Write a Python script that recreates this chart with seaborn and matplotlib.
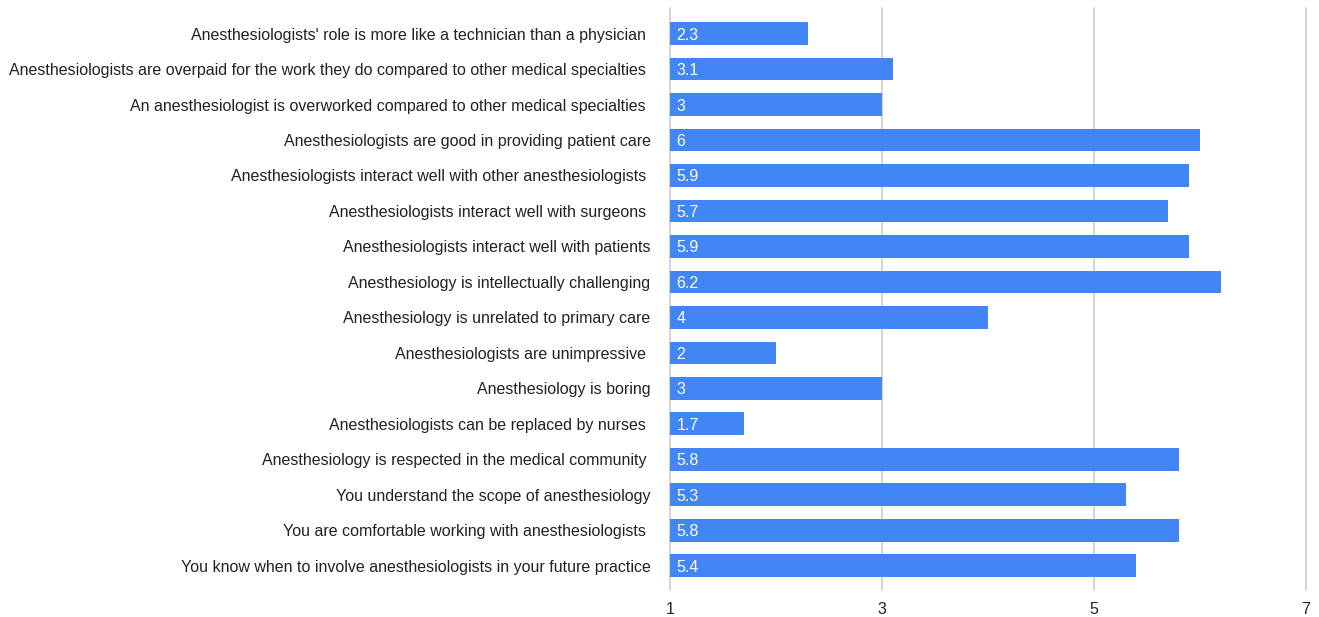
import matplotlib
matplotlib.use("Agg")
import matplotlib.pyplot as plt
import seaborn as sns
import pandas as pd

categories = [
    "Anesthesiologists' role is more like a technician than a physician ",
    "Anesthesiologists are overpaid for the work they do compared to other medical specialties ",
    "An anesthesiologist is overworked compared to other medical specialties ",
    "Anesthesiologists are good in providing patient care",
    "Anesthesiologists interact well with other anesthesiologists ",
    "Anesthesiologists interact well with surgeons ",
    "Anesthesiologists interact well with patients",
    "Anesthesiology is intellectually challenging",
    "Anesthesiology is unrelated to primary care",
    "Anesthesiologists are unimpressive ",
    "Anesthesiology is boring",
    "Anesthesiologists can be replaced by nurses ",
    "Anesthesiology is respected in the medical community ",
    "You understand the scope of anesthesiology",
    "You are comfortable working with anesthesiologists ",
    "You know when to involve anesthesiologists in your future practice",
]
values = [2.3, 3.1, 3, 6, 5.9, 5.7, 5.9, 6.2, 4, 2, 3, 1.7, 5.8, 5.3, 5.8, 5.4]
value_labels = ["2.3", "3.1", "3", "6", "5.9", "5.7", "5.9", "6.2", "4", "2", "3", "1.7", "5.8", "5.3", "5.8", "5.4"]
x_ticks = [1, 3, 5, 7]

sns.set_theme(style="white")
plt.rcParams['font.family'] = ['Liberation Sans', 'DejaVu Sans']

df = pd.DataFrame({"statement": categories, "score": values})

fig = plt.figure(figsize=(13.19, 6.17), dpi=100)
ax = fig.add_axes([0.508, 0.044, 0.482, 0.943])

sns.barplot(data=df, y="statement", x="score", orient="h", color="#4285F4",
            saturation=1, width=0.64, ax=ax, zorder=3, linewidth=0)

ax.set_xlim(1, 7)
ax.set_ylim(15.68, -0.72)
ax.set_xticks(x_ticks)
ax.set_xticklabels([str(t) for t in x_ticks], fontsize=11.5, color="#222222")
ax.tick_params(axis="x", length=0, pad=9)
ax.tick_params(axis="y", length=0, pad=14, labelsize=11.5, labelcolor="#222222")
ax.set_xlabel("")
ax.set_ylabel("")
ax.grid(axis="x", color="#cccccc", linewidth=1.2, zorder=0)
ax.grid(axis="y", visible=False)
for gl in ax.get_xgridlines():
    gl.set_clip_on(False)
for s in ax.spines.values():
    s.set_visible(False)

for i, lab in enumerate(value_labels):
    ax.text(1.06, i, lab, color="white", fontsize=11.5, va="center_baseline", ha="left", zorder=4)

fig.savefig("out.png", dpi=100)
